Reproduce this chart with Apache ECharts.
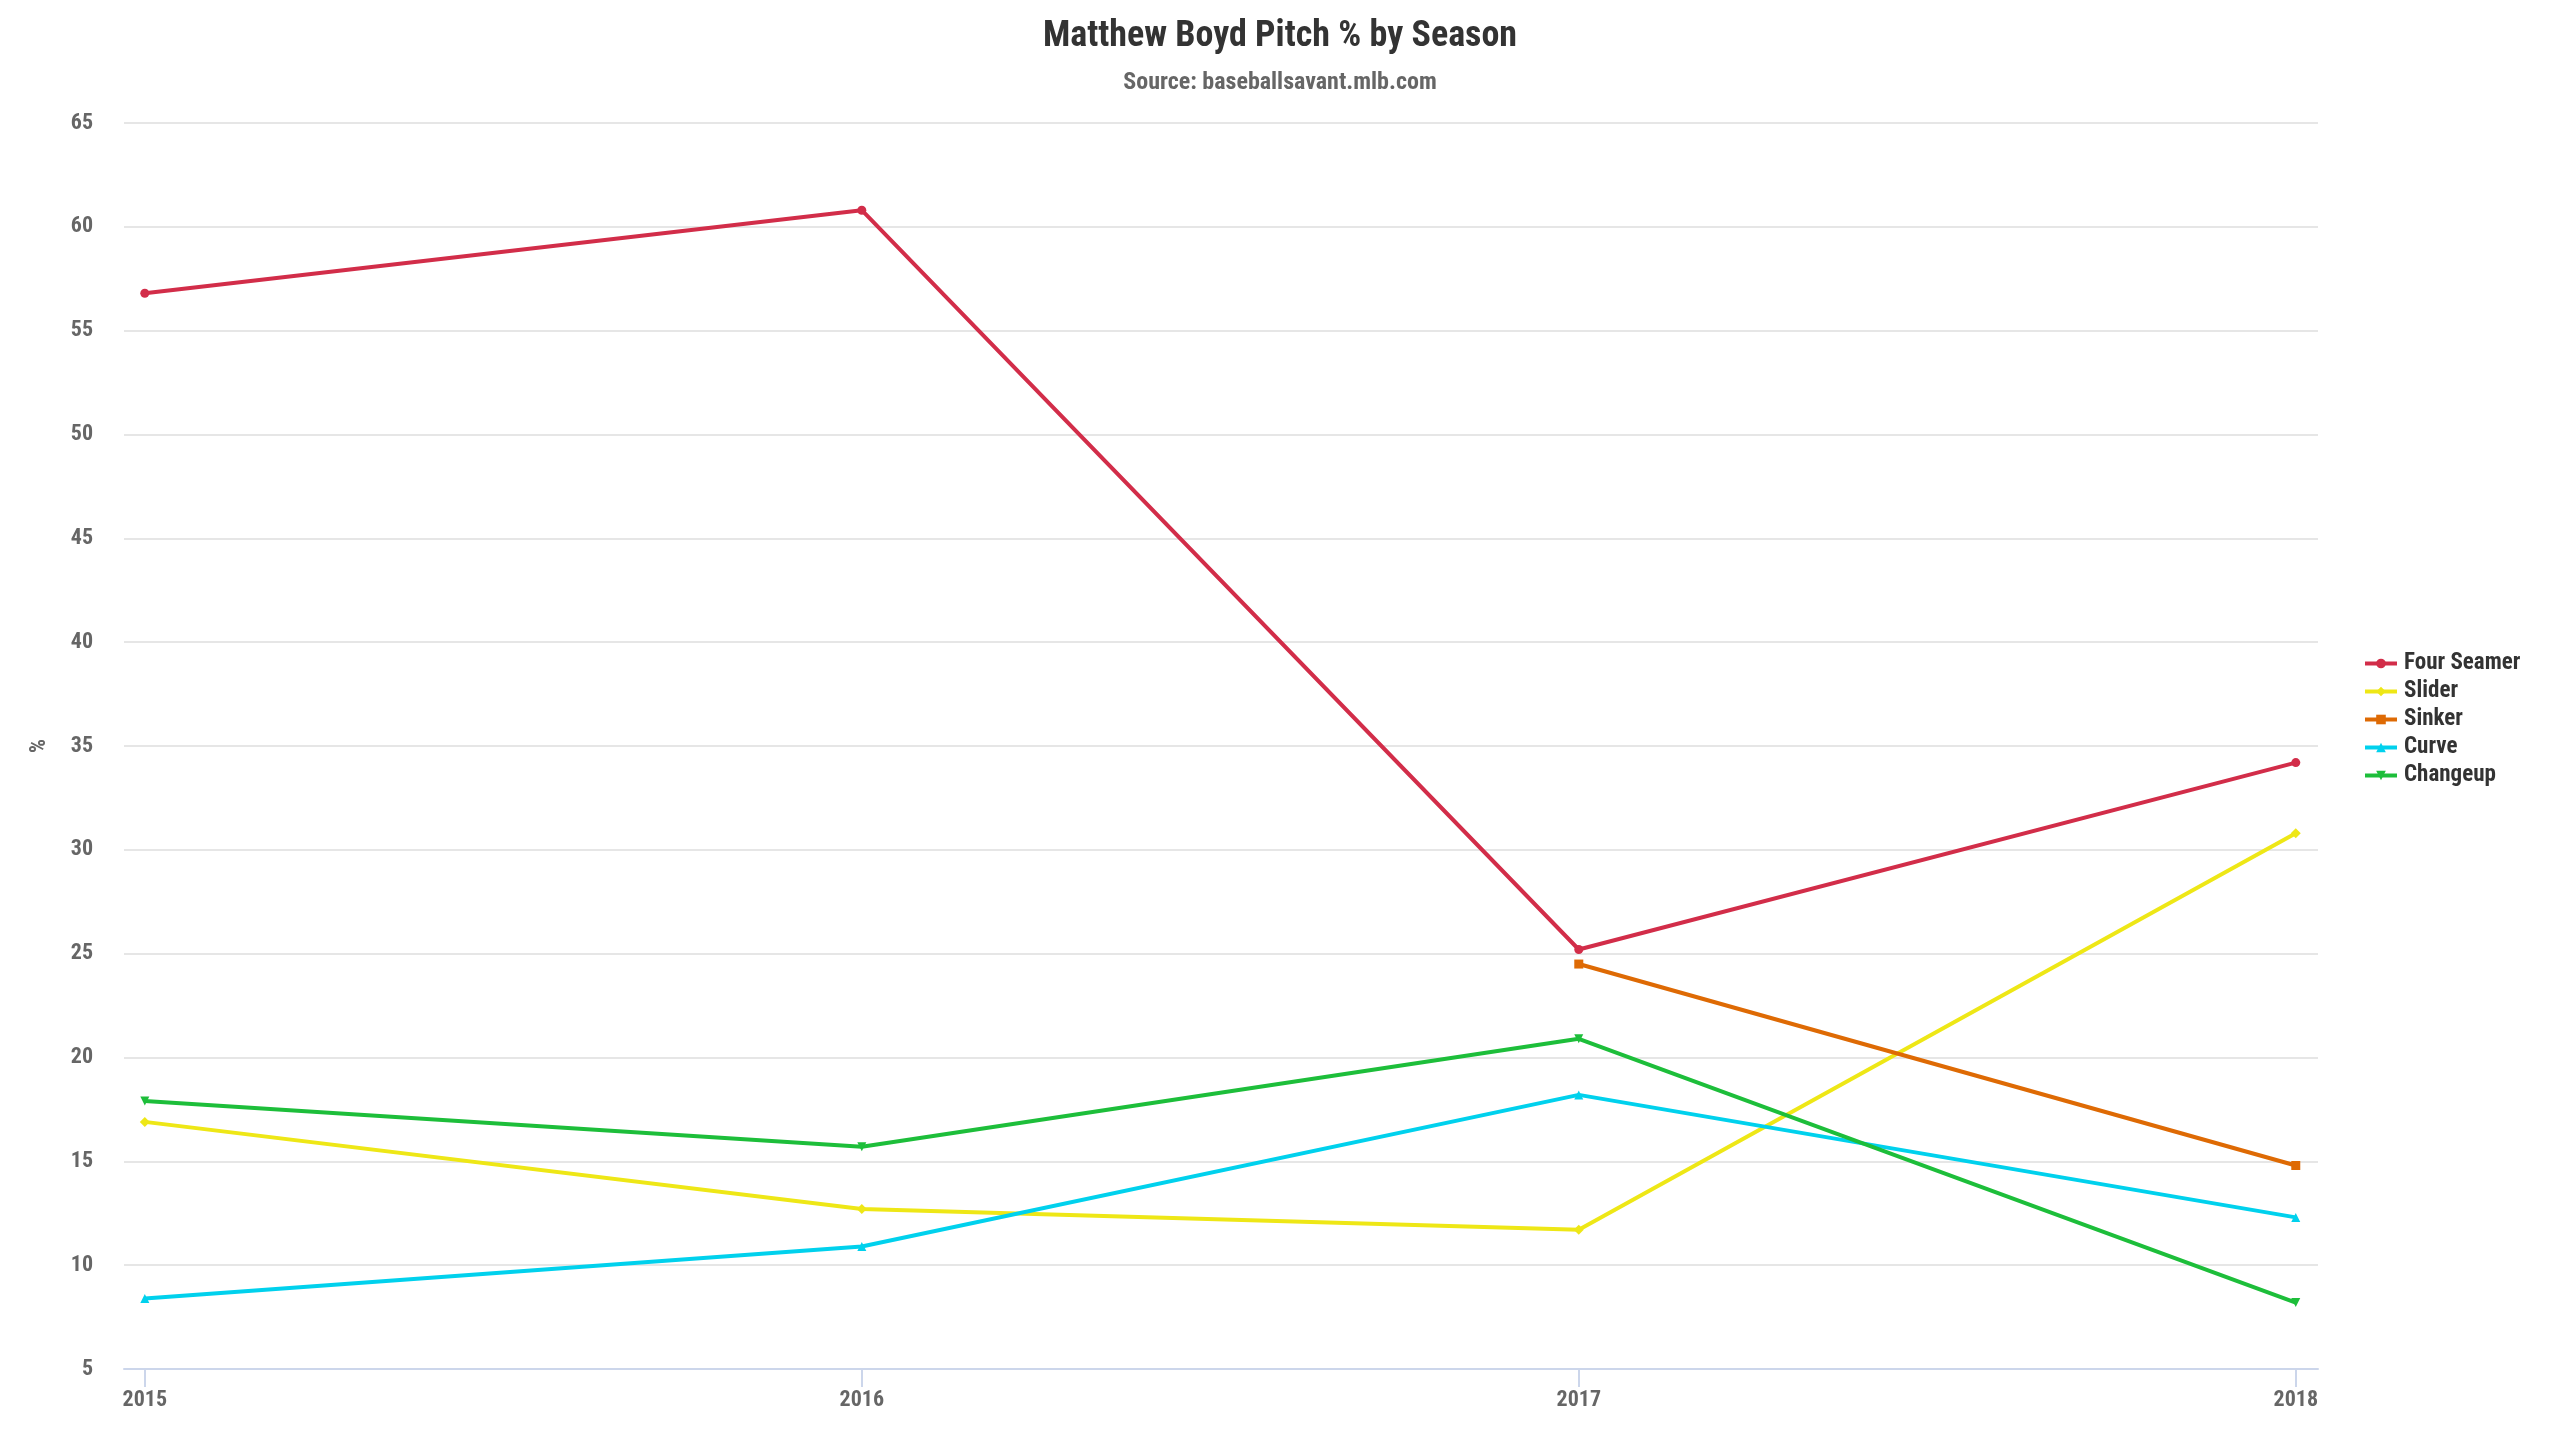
<!DOCTYPE html>
<html>
<head>
<meta charset="utf-8">
<title>Matthew Boyd Pitch % by Season</title>
<script src="https://cdn.jsdelivr.net/npm/echarts@6/dist/echarts.min.js"></script>
<style>
  html, body { margin: 0; padding: 0; background: #fff; }
  #main-chart { width: 2560px; height: 1440px; }
</style>
</head>
<body>
<div id="main-chart"></div>
<script>
const fontName = '"Roboto Condensed", "Liberation Sans Narrow", "DejaVu Sans Condensed", Roboto, sans-serif';

const seasons = [2015, 2016, 2017, 2018];
const fourSeamer = [56.8, 60.8, 25.2, 34.2];
const slider = [16.9, 12.7, 11.7, 30.8];
const sinker = [null, null, 24.5, 14.8];
const curve = [8.4, 10.9, 18.2, 12.3];
const changeup = [17.9, 15.7, 20.9, 8.2];

const pitchNames = ['Four Seamer', 'Slider', 'Sinker', 'Curve', 'Changeup'];
const pitchColors = ['#d22d49', '#eee716', '#de6a04', '#00d1ed', '#1dbe3a'];

function pairs(values) {
    return seasons.map((s, i) => [s, values[i]]);
}

const myChart = echarts.init(document.getElementById('main-chart'));

// marker shapes like the original chart
const markers = [
    {symbol: 'circle', size: 9, rotate: 0},
    {symbol: 'diamond', size: 10, rotate: 0},
    {symbol: 'rect', size: 9, rotate: 0},
    {symbol: 'triangle', size: 9, rotate: 0},
    {symbol: 'triangle', size: 9, rotate: 180},
];

const allValues = [fourSeamer, slider, sinker, curve, changeup];

const option = {
    color: pitchColors,
    textStyle: {fontFamily: fontName},
    title: {
        text: 'Matthew Boyd Pitch % by Season',
        subtext: 'Source: baseballsavant.mlb.com',
        left: 'center',
        top: 14,
        itemGap: 16,
        textStyle: {
            color: '#333333',
            fontFamily: fontName,
            fontWeight: 'bold',
            fontSize: 36,
        },
        subtextStyle: {
            color: '#666666',
            fontFamily: fontName,
            fontWeight: 'bold',
            fontSize: 24,
        },
    },
    legend: {
        orient: 'vertical',
        left: 2358,
        top: 647,
        itemWidth: 32,
        itemHeight: 12,
        itemGap: 5,
        lineStyle: {width: 4},
        textStyle: {
            color: '#333333',
            fontFamily: fontName,
            fontWeight: 'bold',
            fontSize: 23,
            padding: [0, 0, 0, 2],
        },
        data: pitchNames,
    },
    grid: {
        left: 124,
        right: 242,
        top: 123,
        bottom: 71,
    },
    xAxis: {
        type: 'value',
        min: 2014.971,
        max: 2018.031,
        axisLine: {
            show: true,
            lineStyle: {color: '#ccd6eb', width: 2},
        },
        axisTick: {
            show: true,
            customValues: seasons,
            length: 18,
            lineStyle: {color: '#ccd6eb', width: 2},
        },
        axisLabel: {
            customValues: seasons,
            formatter: v => String(v),
            color: '#666666',
            fontWeight: 'bold',
            fontSize: 22,
            margin: 20,
        },
        splitLine: {show: false},
    },
    yAxis: {
        type: 'value',
        name: '%',
        nameLocation: 'middle',
        nameRotate: 90,
        nameGap: 74,
        nameTextStyle: {
            color: '#666666',
            fontWeight: 'bold',
            fontSize: 22,
        },
        min: 5,
        max: 65,
        interval: 5,
        axisLine: {show: false},
        axisTick: {show: false},
        axisLabel: {
            color: '#666666',
            fontWeight: 'bold',
            fontSize: 22,
            margin: 31,
        },
        splitLine: {
            lineStyle: {color: '#e6e6e6', width: 2},
        },
    },
    series: pitchNames.map((name, i) => ({
        name: name,
        type: 'line',
        data: pairs(allValues[i]),
        symbol: markers[i].symbol,
        symbolSize: markers[i].size,
        symbolRotate: markers[i].rotate,
        showSymbol: true,
        connectNulls: false,
        lineStyle: {width: 4, color: pitchColors[i]},
        itemStyle: {color: pitchColors[i]},
        emphasis: {disabled: true},
    })),
};

myChart.setOption(option);
</script>
</body>
</html>
